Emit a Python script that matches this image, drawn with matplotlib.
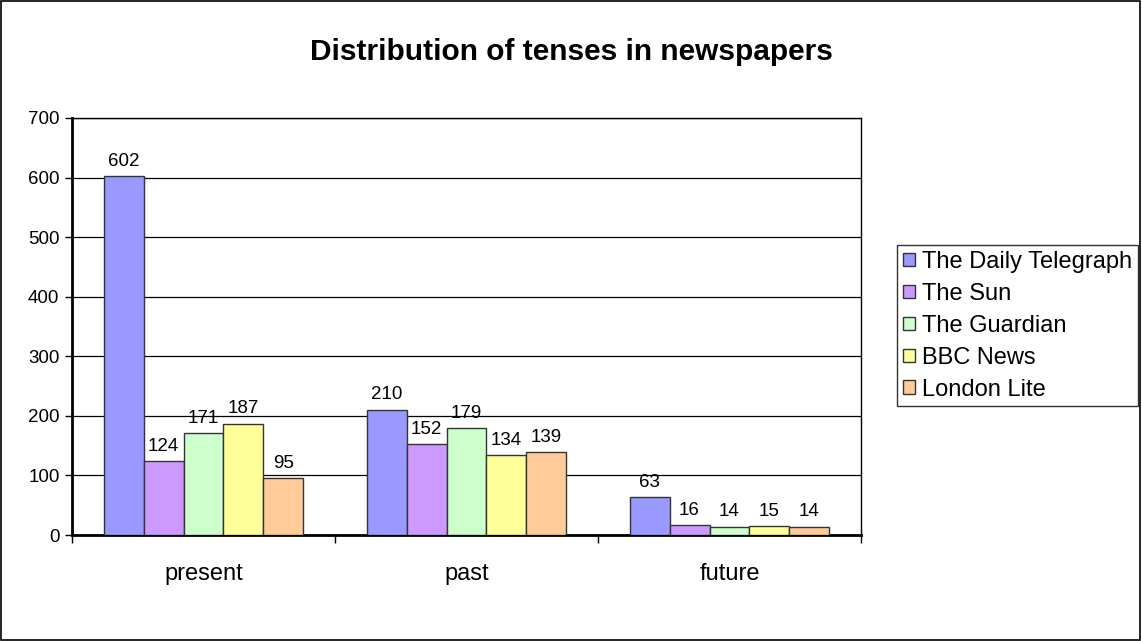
import numpy as np
import matplotlib.pyplot as plt
from matplotlib.patches import Rectangle

plt.rcParams['font.family'] = ['Liberation Sans', 'DejaVu Sans']

# tense counts per newspaper
tenses = ['present', 'past', 'future']
papers = ['The Daily Telegraph', 'The Sun', 'The Guardian', 'BBC News', 'London Lite']
counts = {
    'The Daily Telegraph': [602, 210, 63],
    'The Sun': [124, 152, 16],
    'The Guardian': [171, 179, 14],
    'BBC News': [187, 134, 15],
    'London Lite': [95, 139, 14],
}
colors = ['#9999FF', '#CC99FF', '#CCFFCC', '#FFFF99', '#FFCC99']

fig = plt.figure(figsize=(11.42, 6.41), dpi=100)
ax = fig.add_axes([72 / 1142, 106 / 641, 789 / 1142, 417 / 641])

x = np.arange(len(tenses))
width = 0.152
for i, name in enumerate(papers):
    offs = (i - 2) * width
    bars = ax.bar(x + offs, counts[name], width, color=colors[i],
                  edgecolor='#333333', linewidth=1.0, label=name, zorder=3)
    for b, v in zip(bars, counts[name]):
        ax.text(b.get_x() + b.get_width() / 2, v + 11, str(v),
                ha='center', va='bottom', fontsize=13.5)

ax.set_xlim(-0.5, 2.5)
ax.set_ylim(0, 700)
ax.set_yticks(range(0, 701, 100))
ax.yaxis.grid(True, color='black', linewidth=0.9, zorder=0)
ax.set_axisbelow(True)

# category labels sit between boundary ticks
ax.set_xticks([-0.5, 0.5, 1.5, 2.5])
ax.set_xticklabels([])
ax.set_xticks(x, minor=True)
ax.set_xticklabels(tenses, minor=True, fontsize=17)
ax.tick_params(axis='x', which='minor', length=0, pad=20)
ax.tick_params(axis='x', which='major', length=6, width=1, direction='out')
ax.tick_params(axis='y', length=5, width=1, direction='out', labelsize=13.5, pad=4)

for sp in ax.spines.values():
    sp.set_linewidth(1.0)
ax.spines['left'].set_linewidth(2)
ax.spines['bottom'].set_linewidth(2)

fig.suptitle('Distribution of tenses in newspapers', x=0.5, y=0.94,
             fontsize=21.5, fontweight='bold')

leg = fig.legend(loc='upper left', bbox_to_anchor=(897 / 1142, 1 - 245 / 641),
                 fontsize=17, frameon=True, fancybox=False, shadow=False,
                 edgecolor='black', handlelength=0.5, handleheight=0.5,
                 handletextpad=0.3, labelspacing=0.42, borderpad=0.25,
                 borderaxespad=0)
leg.get_frame().set_linewidth(1.0)

# outer border of the chart
fig.patches.append(Rectangle((0.001, 0.002), 0.997, 0.996, transform=fig.transFigure,
                             fill=False, edgecolor='black', linewidth=1.2))

fig.savefig('out.png', dpi=100)
